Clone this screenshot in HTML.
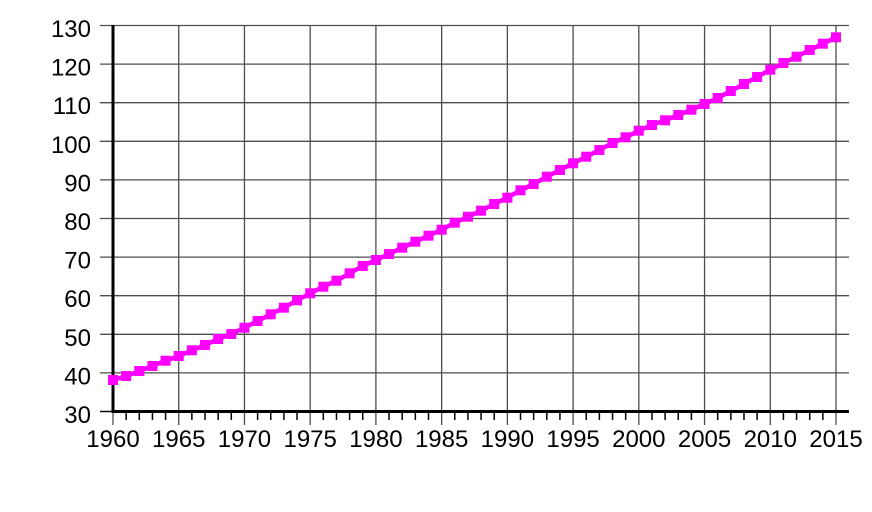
<!DOCTYPE html>
<html>
<head>
<meta charset="utf-8">
<style>
  html,body{margin:0;padding:0;background:#fff;}
  svg{display:block;}
  text{font-family:"Liberation Sans",Arial,sans-serif;font-size:24px;fill:#000;}
</style>
</head>
<body>
<svg width="872" height="512" viewBox="0 0 872 512" xmlns="http://www.w3.org/2000/svg">
<g id="grid" stroke="#4d4d4d" stroke-width="1.3" fill="none"></g>
<g id="ticks" stroke="#000" stroke-width="1.5" fill="none"></g>
<g id="axes" stroke="#000" stroke-width="3" fill="none">
  <line x1="113" y1="25" x2="113" y2="413"/>
  <line x1="112" y1="411.5" x2="849" y2="411.5"/>
</g>
<g id="ylabels" text-anchor="end"></g>
<g id="xlabels" text-anchor="middle"></g>
<polyline id="series" fill="none" stroke="#ff00ff" stroke-width="4.5" stroke-linejoin="round"/>
<g id="markers" fill="#ff00ff"></g>
</svg>
<script>
(function(){
  var ns="http://www.w3.org/2000/svg";
  function el(tag,attrs,parent,txt){var e=document.createElementNS(ns,tag);for(var k in attrs)e.setAttribute(k,attrs[k]);if(txt!==undefined)e.textContent=txt;parent.appendChild(e);return e;}
  var grid=document.getElementById('grid'),ticks=document.getElementById('ticks'),
      yl=document.getElementById('ylabels'),xl=document.getElementById('xlabels');
  var x0=113,dx=723/55,y30=411.5,dy=3.86;
  for(var v=30;v<=130;v+=10){
    var y=y30-(v-30)*dy;
    if(v>30) el('line',{x1:100,y1:y,x2:849,y2:y},grid);
    else el('line',{x1:100,y1:y,x2:113,y2:y},ticks);
    el('text',{x:91,y:y+11.5},yl,String(v));
  }
  for(var yr=1960;yr<=2015;yr++){
    var x=x0+(yr-1960)*dx;
    if((yr-1960)%5===0){
      el('line',{x1:x,y1:25.5,x2:x,y2:425},grid);
      el('text',{x:x,y:447},xl,String(yr));
    } else {
      el('line',{x1:x,y1:411,x2:x,y2:420},ticks);
    }
  }
  var ys=[380,376,371,366,360.7,356,350.3,345,339,334,327.7,321,314.3,307.7,300.3,293.3,286.7,280.7,273.3,266,260,254,247.7,241.7,235.7,229.7,222.7,216.7,210.7,204,197.7,190.3,184,176.7,170,163.3,156.7,150,143,137.3,130.7,125,120.3,115,109.7,104,98,91,84,77,69.7,63,56.7,50,43.7,37.3];
  var pts=[],mk=document.getElementById('markers');
  for(var i=0;i<ys.length;i++){
    var px=x0+i*dx;
    pts.push(px.toFixed(2)+','+ys[i]);
    el('rect',{x:px-5,y:ys[i]-5,width:10,height:10},mk);
  }
  document.getElementById('series').setAttribute('points',pts.join(' '));
})();
</script>
</body>
</html>
